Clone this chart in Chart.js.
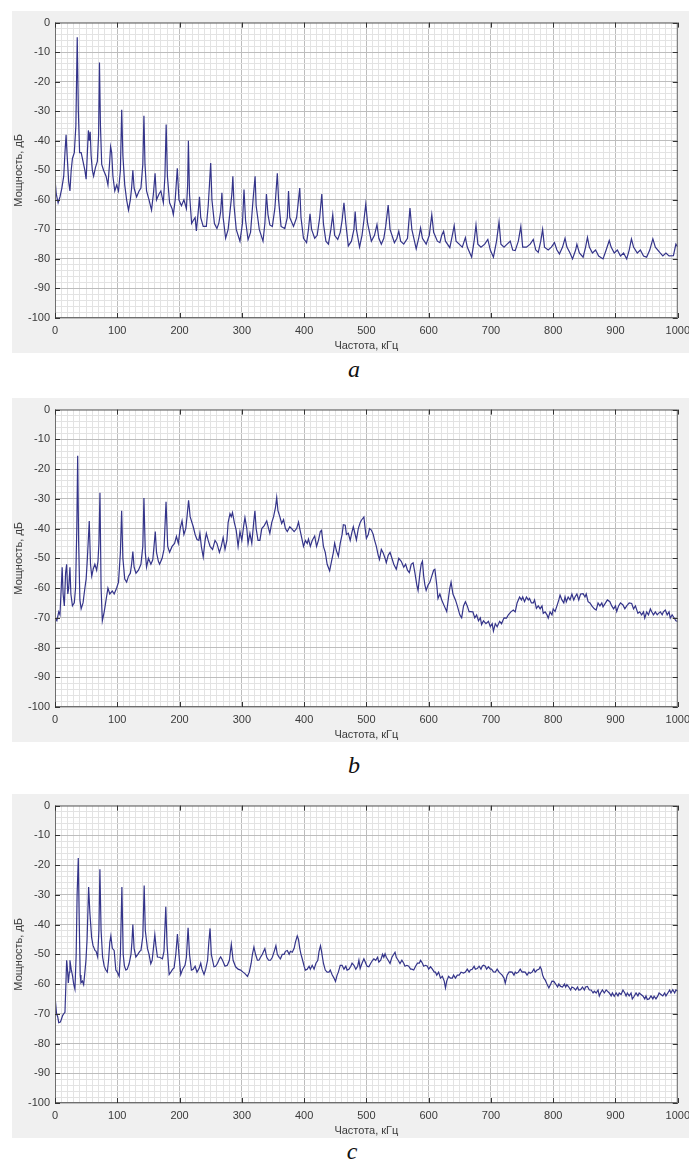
<!DOCTYPE html>
<html>
<head>
<meta charset="utf-8">
<script src="https://cdn.jsdelivr.net/npm/chart.js@4.4.1/dist/chart.umd.min.js"></script>
<style>
  body { margin: 0; background: #fff; width: 689px; height: 1165px; position: relative; overflow: hidden; }
  canvas { position: absolute; left: 12px; }
  .lbl { position: absolute; font-family: "Liberation Serif", serif; font-style: italic; font-size: 24px; color: #111; width: 30px; text-align: center; }
</style>
</head>
<body>
<canvas id="chart-a" width="684" height="342" style="top:11px"></canvas>
<div class="lbl" style="left:339px; top:356px">a</div>
<canvas id="chart-b" width="684" height="344" style="top:398px"></canvas>
<div class="lbl" style="left:339px; top:752px">b</div>
<canvas id="chart-c" width="684" height="344" style="top:794px"></canvas>
<div class="lbl" style="left:337px; top:1138px">c</div>
<script>
  const xTitle = 'Частота, кГц';
  const yTitle = 'Мощность, дБ';
  const xTicks = [0, 100, 200, 300, 400, 500, 600, 700, 800, 900, 1000];
  const yTicks = [0, -10, -20, -30, -40, -50, -60, -70, -80, -90, -100];

  // [частота кГц, мощность дБ]
  const spectrumA = [
    [0,-53],[2,-58],[5,-61],[8,-59],[11,-56],[14,-52],[16,-44],[17.8,-38],[19.5,-45],[22,-54],
    [24,-57],[26,-50],[28,-46],[31,-44],[33.5,-35],[35.7,-5],[37.5,-30],[39.5,-44],[42,-44],[45,-47],
    [48,-50],[50,-53],[52,-44],[53.6,-36.5],[55,-40],[56.5,-37],[58,-45],[60,-50],[62,-52],[65,-49],
    [68,-47],[70,-38],[71.4,-13.5],[73,-35],[75,-48],[78,-50],[82,-52],[85,-55],[87.5,-48],[89.3,-42],
    [91,-44],[93,-52],[96,-57],[99,-55],[102,-57],[105,-50],[107.1,-29.5],[109,-45],[112,-55],[115,-60],
    [118,-63.5],[121,-60],[123,-56],[125,-50],[127,-56],[131,-59],[135,-57],[138,-56],[141,-48],[142.8,-31.5],
    [144.5,-48],[147,-57],[151,-60],[155,-63.5],[158,-58],[160.7,-51],[163,-60],[167,-58],[170,-57],[174,-61],
    [176.5,-52],[178.5,-34.5],[180.5,-52],[184,-61],[188,-63],[190,-65],[193,-60],[196.4,-49.3],[199,-60],[203,-62],
    [207,-60],[211,-63],[213,-55],[214.2,-40],[216,-58],[219.4,-68],[222,-67],[225,-66],[227,-70.5],[230,-64],
    [232,-59],[234,-66],[238,-69],[243,-69],[246,-62],[248,-55],[250,-47.5],[252,-60],[256,-68],[260,-69.7],
    [263,-68],[266,-64],[268,-57.6],[270,-66],[274,-73],[278,-70],[282,-62],[284,-58],[285.6,-52],[287.5,-62],
    [291,-70],[297,-74],[301,-68],[303.5,-56.5],[306,-67],[310,-73.5],[314,-71],[318,-60],[321.3,-52],[323,-62],
    [328,-70],[334,-74],[337,-68],[339.5,-58],[342,-65],[345,-68.5],[349,-69],[353,-63],[355,-57],[357,-51],
    [359,-60],[363,-69],[369,-69.7],[373,-66],[375,-57],[377,-66],[383,-69],[388,-66],[391,-60],[393,-56],
    [395,-66],[399,-73],[404,-74.5],[407,-70],[409.5,-64.7],[412,-70],[417,-73],[421,-72],[425,-66],[428.4,-58],
    [431,-68],[435,-74],[439,-75],[443,-70],[446,-65],[449,-72],[454,-73.4],[458,-71],[461,-67],[464,-61],
    [467,-68],[471,-75.6],[476,-74],[480,-70],[482,-64],[484,-70],[489,-76],[493,-72],[496,-67],[499,-61.5],
    [502,-68],[508,-74],[513,-72],[517,-68.4],[520,-73],[524,-75],[528,-73],[531,-69],[535,-61.8],[538,-70],
    [545,-74.5],[549,-73],[552,-70.6],[555,-74],[560,-75],[566,-73],[570,-62.8],[573,-70],[580,-76.6],[584,-73],
    [587,-69.5],[590,-73],[596,-75],[601,-72],[605,-65],[608,-71],[614,-74],[618,-74.5],[621,-72],[624,-70.6],
    [627,-74],[634,-76.2],[638,-72],[641,-68.7],[644,-74],[649,-75],[654,-76],[659,-72.8],[662,-76],[669,-79.4],
    [673,-74],[676,-68.5],[679,-75],[684,-76],[690,-75],[695,-73.4],[699,-77],[704,-79.4],[709,-74],[713,-67.5],
    [716,-75],[721,-76],[726,-75],[731,-74],[735,-77],[739,-77.2],[744,-74],[748,-69],[751,-76],[757,-76],
    [763,-75],[768,-73.4],[772,-77],[776,-77.8],[780,-74],[783,-70],[786,-76],[792,-77],[797,-76],[802,-74.5],
    [806,-77],[810,-78.3],[815,-76],[819,-73],[822,-76],[827,-78],[831,-80],[836,-77],[838,-75],[842,-78],
    [848,-79.4],[852,-76],[855,-72.7],[858,-76],[863,-78],[868,-77],[873,-79],[880,-80],[885,-77],[890,-73.8],
    [893,-76],[898,-78],[903,-77],[908,-79],[913,-78],[918,-80],[922,-77],[925.6,-73.2],[929,-76],[935,-78],
    [940,-77],[945,-79],[950,-79.4],[955,-77],[960,-73.2],[964,-76],[971,-77.8],[976,-79],[981,-78],[986,-79],
    [993,-78.9],[997,-75],[1000,-76]
  ];

  const spectrumB = [
    [0,-70],[3,-71],[6,-68],[8,-69],[10,-60],[11.5,-53],[13,-62],[15,-66],[17,-55],[18.7,-52],
    [20.5,-62],[22,-60],[24,-53],[25.5,-62],[28,-66],[31,-65],[33,-60],[35,-40],[36.4,-15.5],[38,-45],
    [40,-64],[42,-67],[45,-65],[48,-60],[50,-57],[52,-50],[55,-37.5],[57,-52],[59,-56],[61.5,-53.5],
    [64,-52],[66.9,-54],[69,-51],[70.5,-45],[72.2,-28],[74,-60],[76,-71],[79,-68],[82,-64],[85,-60],
    [88,-62],[92,-61],[95,-62],[99,-60],[102,-58],[105,-48],[107,-34],[109,-50],[112,-57],[115,-58],
    [118,-56],[121,-55],[123,-52],[125,-47.7],[127,-53],[130,-55],[134,-54],[138,-52],[141,-46],[142.8,-29.7],
    [145,-48],[147,-53],[150,-50],[154,-52],[157,-50.5],[159,-46],[161,-41],[163,-48],[166,-51],[168,-52],
    [172,-50],[175,-47],[178.3,-31],[181,-46],[184,-48],[188,-46],[192,-45],[195,-42.6],[198,-45],[201,-40],
    [204,-37.4],[207,-42],[210,-40],[212,-36],[214.5,-30.5],[217,-36],[222,-39.4],[225,-42],[228,-43.7],[231,-44],
    [232.7,-41.6],[235,-46],[238,-49.6],[241,-44],[243,-41.6],[246,-44],[249,-46],[253,-47],[257,-44],[260,-45],
    [264,-48],[267,-46],[270,-43],[273,-47],[276,-44],[278,-38],[281,-35],[283,-36],[285,-34.6],[288,-38],
    [291,-40.6],[294,-46],[297,-41],[300,-44],[303,-39],[305,-36.3],[308,-40],[310,-45],[313,-41.6],[316,-45],
    [319,-38],[321,-34],[323,-40],[326,-44],[329,-44],[332,-40],[336,-39],[340,-37.4],[343,-40],[345,-41.6],
    [348,-38],[351,-36],[354,-33],[356,-29.5],[358,-34],[361,-36],[364,-38.3],[367,-37],[370,-40],[373,-41],
    [377,-39.4],[380,-40],[384,-41],[388,-40],[391,-37.8],[393,-40],[396,-43],[399,-46],[402,-44],[405,-45],
    [407,-43.5],[410,-46],[413,-44],[417,-42.5],[420,-46],[423,-44],[426,-41],[428,-40.6],[431,-46],[434,-48],
    [437,-52],[441,-54.2],[444,-51],[447,-48],[449,-44.9],[452,-47.5],[455,-49.3],[458,-45],[461,-42],[463,-38.7],
    [466,-38.9],[468,-42],[471,-41.6],[474,-44],[477,-41],[479,-39.4],[482,-42],[484,-43.8],[487,-40],[490,-38],
    [492,-37.2],[496,-36.1],[498,-40],[500,-43.3],[503,-42],[505,-40],[508,-40.5],[511,-42],[513,-43.8],[516,-46],
    [519,-49],[521,-50.4],[524,-47],[527,-48.2],[530,-50],[532,-51.5],[535,-49],[538,-48],[540,-49.3],[544,-52],
    [548,-53.7],[552,-50],[556,-51],[560,-53],[563,-52],[566,-54],[569,-54.8],[572,-52],[575,-51.5],[578,-55],
    [581,-59],[583,-60.8],[586,-55],[588,-52],[590,-51],[592,-56],[594,-59],[596,-60.8],[599,-59],[602,-58],
    [605,-56],[608,-54],[610,-53.7],[613,-59],[615,-63.5],[618,-62],[621,-64],[625,-66],[629,-67.9],[632,-63],
    [634,-60],[636,-58],[639,-62],[643,-64],[646,-66],[650,-69],[653,-70],[656,-66],[659,-64.6],[662,-66],
    [665,-68],[667,-67.9],[671,-68],[674,-70],[677,-69],[680,-71],[683,-70],[685,-72.3],[688,-71],[692,-72],
    [696,-71.2],[699,-73],[702,-72],[704,-74.5],[707,-72],[710,-73],[714,-71.2],[717,-72],[721,-70],[725,-70.1],
    [728,-69],[732,-68],[736,-67.4],[739,-68],[742,-65],[746,-63],[749,-64],[751,-63],[754,-64.6],[757,-63],
    [760,-64],[762,-63.5],[765,-65],[768,-65],[770,-64],[773,-66.8],[776,-66],[779,-67],[782,-66],[784,-68.5],
    [787,-68],[790,-69],[792,-70.1],[795,-68],[798,-69],[800,-67],[803,-67.9],[806,-66],[809,-64],[811,-62.4],
    [814,-64],[817,-65],[819,-63],[821,-64.6],[824,-63],[827,-64],[830,-62],[833,-64],[835,-63],[838,-62],
    [841,-64],[844,-62],[848,-61.9],[851,-63],[853,-62],[856,-64.6],[859,-65],[862,-66],[866,-67],[869,-67.4],
    [872,-65],[875,-66],[878,-65],[880,-66.3],[884,-65],[887,-64],[891,-64.6],[894,-66],[897,-67],[900,-66],
    [902,-67.9],[905,-66],[908,-65],[912,-65.7],[915,-67],[918,-66],[922,-65],[926,-65.2],[929,-67],[932,-66],
    [936,-68.5],[939,-68],[942,-69],[945,-68],[947,-70.1],[950,-68],[953,-69],[956,-67],[958,-67.9],[961,-69],
    [964,-68],[967,-69],[969,-68.5],[972,-68],[975,-69],[977,-68],[980,-67.4],[983,-69],[986,-68],[988,-70.1],
    [991,-69],[994,-70],[997,-71],[1000,-71.2]
  ];

  const spectrumC = [
    [0,-64],[1.5,-64],[2.5,-70],[4.3,-71],[6,-73],[8.5,-72.8],[10,-72],[12.2,-70.6],[14,-70],[16,-69.5],
    [17.5,-60],[18.7,-52],[20,-55],[21.4,-59.6],[23,-56],[24,-52],[26,-55],[28.3,-57.4],[30,-60],[32,-61.7],
    [34,-50],[35.5,-30],[37.4,-17.6],[39,-40],[40.5,-57],[41.7,-59.6],[44,-59],[46,-60.2],[48,-56],[49.7,-52],
    [51.5,-45],[54,-27.4],[56,-36],[58.8,-44.3],[61,-47],[64.2,-48.7],[66,-49],[68.5,-50.9],[70.5,-42],[72.1,-21.4],
    [74,-42],[76.4,-50.9],[79,-54],[81.7,-55.3],[84,-56],[86,-52],[88,-46],[89.7,-43.8],[92,-48],[95,-48.7],
    [97.7,-55.3],[100,-56],[103,-57.4],[105,-50],[107.4,-27.4],[109.5,-50],[111.5,-54],[113.8,-55.3],[116,-55],[119,-53.2],
    [122,-50],[123.5,-46],[125,-40],[127,-48],[129.8,-50.9],[133,-50],[136,-49],[138,-48.7],[141,-44],[143.2,-26.9],
    [145,-42],[148.5,-48.1],[151,-50],[153.8,-53.2],[156,-52],[158,-48],[160.3,-43.4],[162,-47],[164.5,-50.9],[168,-51],
    [172.5,-51.5],[175,-49],[177.9,-34],[180,-47],[183.3,-56.8],[186,-56],[189,-55],[191.2,-54.6],[194,-50],[196.6,-43.2],
    [199,-50],[201.9,-56.8],[205,-55],[208.8,-53.7],[211,-51],[213.7,-41.1],[216,-50],[219,-55.3],[222,-55],[225,-54],
    [228,-56],[231.3,-54.8],[234,-53],[236,-55],[239.3,-56.8],[242,-55],[245,-52],[247,-46],[249,-41.3],[251,-50],
    [255.3,-54.2],[258,-54],[261,-53],[264,-51.5],[266,-50.9],[269,-52],[273,-54],[276.7,-53.7],[280,-52],[283.1,-46.6],
    [286,-52],[290,-54.2],[294,-55],[298,-55.3],[302,-56],[305,-56.5],[309,-57.4],[312,-56],[315,-53],[317,-50],
    [319.4,-47.6],[322,-50],[325,-52],[327.4,-52],[330,-51],[333,-50],[335,-49],[337,-48.1],[340,-51],[343,-52],
    [346,-52],[349,-51],[352,-49],[354.7,-47.1],[357,-50],[360,-51],[362,-51.5],[365,-50],[368,-50],[370,-49],
    [373,-48.7],[376,-50],[378,-49],[381,-49.3],[384,-48],[386,-46],[389,-43.8],[391,-45],[393,-48],[395,-50],
    [397,-51.5],[400,-54],[402,-55.3],[405,-55],[408,-54],[410,-55],[413,-53.7],[416,-55],[419,-53],[422,-52],
    [424,-49],[426.3,-47.1],[428,-49],[431,-53],[434,-55.3],[437,-56],[440,-56],[442,-55.3],[445,-56.9],[448,-58],
    [450.4,-59.1],[453,-57],[455,-56],[458,-53.7],[461,-53.7],[464,-55],[467,-54],[469,-55.3],[472,-55],[475,-54],
    [477,-53],[480,-53.7],[483,-55],[486,-54],[488,-52],[490,-54.8],[493,-53],[496,-51.5],[499,-53],[501,-54],
    [504,-54.2],[507,-53],[510,-52],[512,-51.5],[515,-52],[518,-51],[520,-52.6],[523,-52],[526,-50],[528,-51],
    [530,-49.8],[532,-51],[535,-52],[538,-53.1],[541,-51],[544,-50],[546,-49.3],[548,-51],[551,-52],[554,-53.1],
    [557,-52],[560,-53],[562,-54],[565,-53.7],[568,-54],[571,-55],[573,-55],[576,-55.3],[579,-54],[582,-53],
    [585,-53],[587,-52],[590,-53],[592,-54],[595,-53.7],[598,-54],[600,-55],[603,-54.2],[606,-55],[609,-56],
    [611,-56],[613,-57],[616,-56],[619,-58],[622,-57.4],[625,-59],[627,-61.3],[629,-59],[632,-57.4],[635,-58],
    [638,-58],[640,-57],[643,-58],[646,-57],[649,-57],[652,-56],[656,-56.3],[659,-56],[662,-55],[665,-56],
    [667,-55.3],[670,-55],[673,-54],[675,-55],[678,-54.8],[681,-54],[684,-55],[686,-54],[688,-53.7],[691,-54],
    [693,-55],[696,-54.2],[699,-55],[701,-55],[704,-55.9],[707,-56],[710,-55],[713,-56],[715,-56.4],[718,-57],
    [721,-58],[723,-59.7],[726,-57],[729,-56],[731,-55.9],[734,-56],[737,-57],[739,-56],[741,-56.4],[744,-56],
    [747,-55],[750,-56],[752,-55.9],[755,-56],[758,-57],[761,-56],[763,-56.4],[766,-56],[769,-55],[771,-56],
    [774,-55.3],[777,-55],[779,-54.2],[781,-55],[783,-57],[785,-58],[787,-58.6],[790,-60],[793,-61.3],[796,-60],
    [798,-59],[801,-59.1],[804,-60],[807,-61],[809,-60],[812,-60.8],[815,-61],[818,-60],[820,-61],[822,-60.2],
    [825,-61],[828,-62],[830,-61],[833,-61.3],[836,-62],[839,-61],[841,-62],[844,-61.9],[847,-61],[850,-62],
    [852,-61],[855,-60.8],[858,-62],[861,-62],[864,-63],[866,-62.4],[869,-63],[872,-62],[874,-64],[876,-63],
    [879,-62],[882,-63],[885,-62],[887,-62.4],[890,-63],[893,-64],[895,-63],[898,-64.1],[901,-63],[904,-64],
    [906,-63],[909,-63.5],[912,-62],[915,-63],[917,-64],[919,-63],[922,-64],[925,-63],[927,-65],[930,-64.1],
    [933,-63],[936,-64],[938,-63],[941,-63.5],[944,-64],[947,-65],[949,-64],[951,-65.2],[954,-65],[957,-64],
    [960,-65],[962,-64.1],[965,-65],[968,-64],[970,-63],[973,-63.5],[976,-64],[979,-63],[981,-64],[984,-63],
    [987,-62],[989,-63],[992,-61.9],[995,-63],[997,-62],[1000,-62.4]
  ];

  // фон, рамка и внутренние засечки как в MATLAB
  const framePlugin = {
    id: 'frame',
    beforeDraw(chart) {
      const { ctx, chartArea: a } = chart;
      ctx.save();
      ctx.fillStyle = '#f0f0f0';
      ctx.fillRect(0, 0, chart.width, chart.height);
      ctx.fillStyle = '#fff';
      ctx.fillRect(a.left, a.top, a.right - a.left, a.bottom - a.top);
      ctx.restore();
    },
    afterDraw(chart) {
      const { ctx, chartArea: a, scales } = chart;
      ctx.save();
      ctx.strokeStyle = '#6e6e6e';
      ctx.lineWidth = 1;
      ctx.strokeRect(a.left + 0.5, a.top + 0.5, a.right - a.left - 1, a.bottom - a.top - 1);
      ctx.strokeStyle = '#333';
      ctx.beginPath();
      xTicks.forEach(v => {
        const px = Math.round(scales.x.getPixelForValue(v)) + 0.5;
        ctx.moveTo(px, a.bottom); ctx.lineTo(px, a.bottom - 5);
        ctx.moveTo(px, a.top); ctx.lineTo(px, a.top + 5);
      });
      yTicks.forEach(v => {
        const py = Math.round(scales.y.getPixelForValue(v)) + 0.5;
        ctx.moveTo(a.left, py); ctx.lineTo(a.left + 5, py);
        ctx.moveTo(a.right, py); ctx.lineTo(a.right - 5, py);
      });
      ctx.stroke();
      ctx.restore();
    }
  };

  const font = { family: '"Liberation Sans", Arial, sans-serif', size: 11 };

  function makeChart(id, points, topPad) {
    return new Chart(document.getElementById(id), {
      type: 'line',
      data: {
        datasets: [{
          data: points.map(p => ({ x: p[0], y: p[1] })),
          borderColor: '#34348a',
          borderWidth: 1.2,
          pointRadius: 0,
          tension: 0
        }]
      },
      options: {
        responsive: false,
        animation: false,
        devicePixelRatio: 1,
        layout: { padding: { top: topPad, right: 0, left: 0, bottom: 0 } },
        plugins: { legend: { display: false }, tooltip: { enabled: false } },
        scales: {
          x: {
            type: 'linear',
            min: 0,
            max: 1000,
            afterFit: s => { s.height = 35; },
            ticks: {
              stepSize: 10,
              autoSkip: false,
              maxRotation: 0,
              padding: 6,
              color: '#3a3a3a',
              font: font,
              callback: v => (Math.round(v) % 100 === 0 ? String(Math.round(v)) : '')
            },
            grid: {
              drawTicks: false,
              color: c => (Math.round(c.tick.value) % 100 === 0 ? '#bdbdbd' : '#e3e3e3'),
              lineWidth: 1
            },
            border: { display: false },
            title: { display: true, text: xTitle, color: '#3a3a3a', font: font, padding: { top: 1, bottom: 0 } }
          },
          y: {
            min: -100,
            max: 0,
            afterFit: s => { s.width = 43; },
            ticks: {
              stepSize: 2,
              autoSkip: false,
              padding: 5,
              color: '#3a3a3a',
              font: font,
              callback: v => (Math.round(v) % 10 === 0 ? String(Math.round(v)) : '')
            },
            grid: {
              drawTicks: false,
              color: c => (Math.round(c.tick.value) % 10 === 0 ? '#bdbdbd' : '#e3e3e3'),
              lineWidth: 1
            },
            border: { display: false },
            title: { display: true, text: yTitle, color: '#3a3a3a', font: font, padding: { top: 0, bottom: 2 } }
          }
        }
      },
      plugins: [framePlugin]
    });
  }

  makeChart('chart-a', spectrumA, 4);
  makeChart('chart-b', spectrumB, 6);
  makeChart('chart-c', spectrumC, 4);
</script>
</body>
</html>
